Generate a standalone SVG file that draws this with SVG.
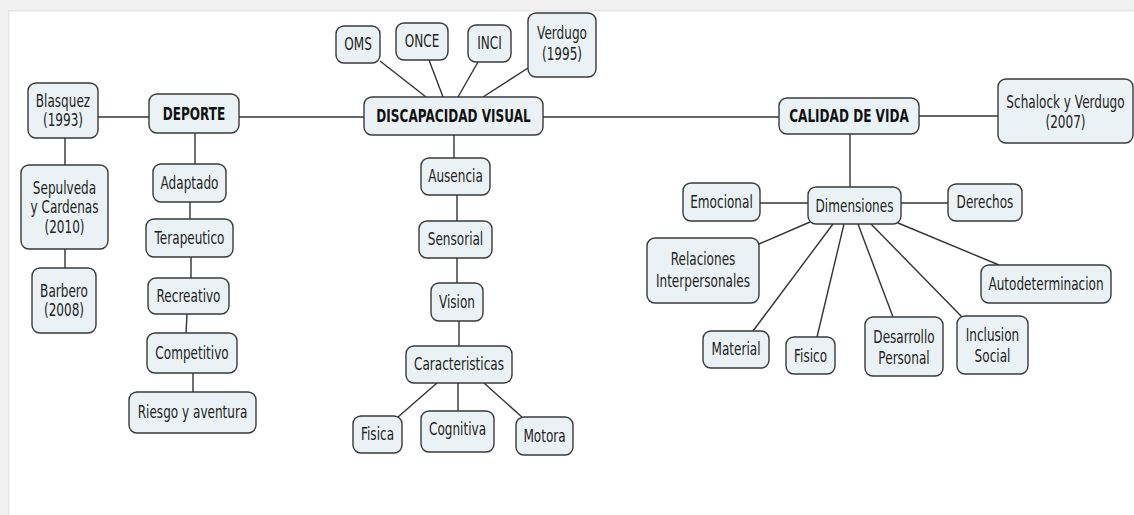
<svg xmlns="http://www.w3.org/2000/svg" width="1134" height="515" viewBox="0 0 1134 515">
<style>
.n{fill:#ebf2f5;stroke:#3a3a3a;stroke-width:1.4}
.t{font-family:"DejaVu Sans",Verdana,sans-serif;font-size:17px;fill:#222;text-anchor:middle}
.b{font-weight:bold;fill:#111}
.c line{stroke:#333;stroke-width:1.4}
</style>
<rect width="1134" height="515" fill="#fff"/>
<rect x="0" y="0" width="1134" height="10" fill="#f1f1f1"/>
<rect x="0" y="10" width="1134" height="1.5" fill="#e6e6e6"/>
<rect x="0" y="0" width="8" height="515" fill="#f1f1f1"/>
<rect x="8" y="11" width="1.5" height="504" fill="#e6e6e6"/>
<g id="connectors" class="c">
<line x1="98" y1="117" x2="149" y2="117"/>
<line x1="239" y1="117" x2="364" y2="117"/>
<line x1="543" y1="117" x2="779" y2="117"/>
<line x1="919" y1="116" x2="998" y2="116"/>
<line x1="65" y1="138" x2="65" y2="165"/>
<line x1="65" y1="249" x2="65" y2="268"/>
<line x1="195" y1="133" x2="195" y2="164"/>
<line x1="190" y1="202" x2="190" y2="219"/>
<line x1="191" y1="257" x2="191" y2="278"/>
<line x1="187" y1="314" x2="186" y2="333"/>
<line x1="193" y1="373" x2="193" y2="392"/>
<line x1="380" y1="61" x2="426" y2="97"/>
<line x1="429" y1="60" x2="443" y2="97"/>
<line x1="478" y1="62" x2="458" y2="97"/>
<line x1="528" y1="68" x2="483" y2="97"/>
<line x1="454" y1="135" x2="454" y2="158"/>
<line x1="457" y1="195" x2="457" y2="221"/>
<line x1="457" y1="258" x2="457" y2="283"/>
<line x1="459" y1="321" x2="459" y2="346"/>
<line x1="437" y1="383" x2="398" y2="417"/>
<line x1="458" y1="383" x2="458" y2="411"/>
<line x1="484" y1="383" x2="523" y2="418"/>
<line x1="850" y1="134" x2="850" y2="187"/>
<line x1="760" y1="203" x2="808" y2="203"/>
<line x1="901" y1="203" x2="948" y2="203"/>
<line x1="810" y1="222" x2="759" y2="244"/>
<line x1="833" y1="224" x2="753" y2="331"/>
<line x1="844" y1="224" x2="817" y2="337"/>
<line x1="858" y1="224" x2="893" y2="317"/>
<line x1="871" y1="224" x2="962" y2="317"/>
<line x1="898" y1="223" x2="999" y2="265"/>
</g>
<g id="blasquez"><rect class="n" x="28" y="83" width="70" height="55" rx="8"/><text class="t" transform="translate(63,107) scale(0.71,1)"><tspan x="0">Blasquez</tspan><tspan x="0" dy="19">(1993)</tspan></text></g>
<g id="deporte"><rect class="n" x="149" y="94" width="90" height="39" rx="8"/><text class="t b" transform="translate(194,120) scale(0.71,1)">DEPORTE</text></g>
<g id="sepulveda"><rect class="n" x="21" y="165" width="87" height="84" rx="8"/><text class="t" transform="translate(64.5,194) scale(0.71,1)"><tspan x="0">Sepulveda</tspan><tspan x="0" dy="19.5">y Cardenas</tspan><tspan x="0" dy="19.5">(2010)</tspan></text></g>
<g id="barbero"><rect class="n" x="32" y="268" width="64" height="65" rx="8"/><text class="t" transform="translate(64,297) scale(0.71,1)"><tspan x="0">Barbero</tspan><tspan x="0" dy="19">(2008)</tspan></text></g>
<g id="adaptado"><rect class="n" x="153" y="164" width="73" height="38" rx="8"/><text class="t" transform="translate(189.5,189) scale(0.71,1)">Adaptado</text></g>
<g id="terapeutico"><rect class="n" x="146" y="219" width="87" height="38" rx="8"/><text class="t" transform="translate(189.5,244) scale(0.71,1)">Terapeutico</text></g>
<g id="recreativo"><rect class="n" x="148" y="278" width="81" height="36" rx="8"/><text class="t" transform="translate(188.5,302) scale(0.71,1)">Recreativo</text></g>
<g id="competitivo"><rect class="n" x="147" y="333" width="90" height="40" rx="8"/><text class="t" transform="translate(192,359) scale(0.71,1)">Competitivo</text></g>
<g id="riesgo"><rect class="n" x="129" y="392" width="127" height="41" rx="8"/><text class="t" transform="translate(192.5,418) scale(0.71,1)">Riesgo y aventura</text></g>
<g id="oms"><rect class="n" x="336" y="26" width="44" height="37" rx="8"/><text class="t" transform="translate(358,50) scale(0.71,1)">OMS</text></g>
<g id="once"><rect class="n" x="396" y="23" width="52" height="37" rx="8"/><text class="t" transform="translate(422,47) scale(0.71,1)">ONCE</text></g>
<g id="inci"><rect class="n" x="468" y="25" width="43" height="37" rx="8"/><text class="t" transform="translate(489.5,49) scale(0.71,1)">INCI</text></g>
<g id="verdugo"><rect class="n" x="528" y="13" width="68" height="64" rx="8"/><text class="t" transform="translate(562,39) scale(0.71,1)"><tspan x="0">Verdugo</tspan><tspan x="0" dy="21">(1995)</tspan></text></g>
<g id="discapacidad"><rect class="n" x="364" y="97" width="179" height="38" rx="8"/><text class="t b" transform="translate(453.5,122) scale(0.71,1)">DISCAPACIDAD VISUAL</text></g>
<g id="ausencia"><rect class="n" x="421" y="158" width="69" height="37" rx="8"/><text class="t" transform="translate(455.5,182) scale(0.71,1)">Ausencia</text></g>
<g id="sensorial"><rect class="n" x="419" y="221" width="73" height="37" rx="8"/><text class="t" transform="translate(455.5,245) scale(0.71,1)">Sensorial</text></g>
<g id="vision"><rect class="n" x="431" y="283" width="52" height="38" rx="8"/><text class="t" transform="translate(457,308) scale(0.71,1)">Vision</text></g>
<g id="caracteristicas"><rect class="n" x="406" y="346" width="106" height="37" rx="8"/><text class="t" transform="translate(459,370) scale(0.71,1)">Caracteristicas</text></g>
<g id="fisica"><rect class="n" x="353" y="416" width="49" height="37" rx="8"/><text class="t" transform="translate(377.5,440) scale(0.71,1)">Fisica</text></g>
<g id="cognitiva"><rect class="n" x="421" y="411" width="73" height="41" rx="8"/><text class="t" transform="translate(457.5,435) scale(0.71,1)">Cognitiva</text></g>
<g id="motora"><rect class="n" x="516" y="417" width="57" height="38" rx="8"/><text class="t" transform="translate(544.5,442) scale(0.71,1)">Motora</text></g>
<g id="calidad"><rect class="n" x="779" y="98" width="140" height="36" rx="8"/><text class="t b" transform="translate(849,122) scale(0.71,1)">CALIDAD DE VIDA</text></g>
<g id="schalock"><rect class="n" x="998" y="79" width="135" height="64" rx="8"/><text class="t" transform="translate(1065.5,108) scale(0.71,1)"><tspan x="0">Schalock y Verdugo</tspan><tspan x="0" dy="20">(2007)</tspan></text></g>
<g id="emocional"><rect class="n" x="683" y="183" width="77" height="38" rx="8"/><text class="t" transform="translate(721.5,208) scale(0.71,1)">Emocional</text></g>
<g id="dimensiones"><rect class="n" x="808" y="187" width="93" height="37" rx="8"/><text class="t" transform="translate(854.5,212) scale(0.71,1)">Dimensiones</text></g>
<g id="derechos"><rect class="n" x="948" y="184" width="74" height="37" rx="8"/><text class="t" transform="translate(985,208) scale(0.71,1)">Derechos</text></g>
<g id="relaciones"><rect class="n" x="647" y="238" width="112" height="65" rx="8"/><text class="t" transform="translate(703,265) scale(0.71,1)"><tspan x="0">Relaciones</tspan><tspan x="0" dy="22">Interpersonales</tspan></text></g>
<g id="autodeterminacion"><rect class="n" x="981" y="265" width="130" height="38" rx="8"/><text class="t" transform="translate(1046,290) scale(0.71,1)">Autodeterminacion</text></g>
<g id="material"><rect class="n" x="703" y="331" width="66" height="37" rx="8"/><text class="t" transform="translate(736,355) scale(0.71,1)">Material</text></g>
<g id="fisico"><rect class="n" x="786" y="337" width="49" height="37" rx="8"/><text class="t" transform="translate(810.5,362) scale(0.71,1)">Fisico</text></g>
<g id="desarrollo"><rect class="n" x="865" y="317" width="78" height="59" rx="8"/><text class="t" transform="translate(904,343) scale(0.71,1)"><tspan x="0">Desarrollo</tspan><tspan x="0" dy="21">Personal</tspan></text></g>
<g id="inclusion"><rect class="n" x="957" y="316" width="71" height="58" rx="8"/><text class="t" transform="translate(992.5,341) scale(0.71,1)"><tspan x="0">Inclusion</tspan><tspan x="0" dy="21">Social</tspan></text></g>
</svg>
